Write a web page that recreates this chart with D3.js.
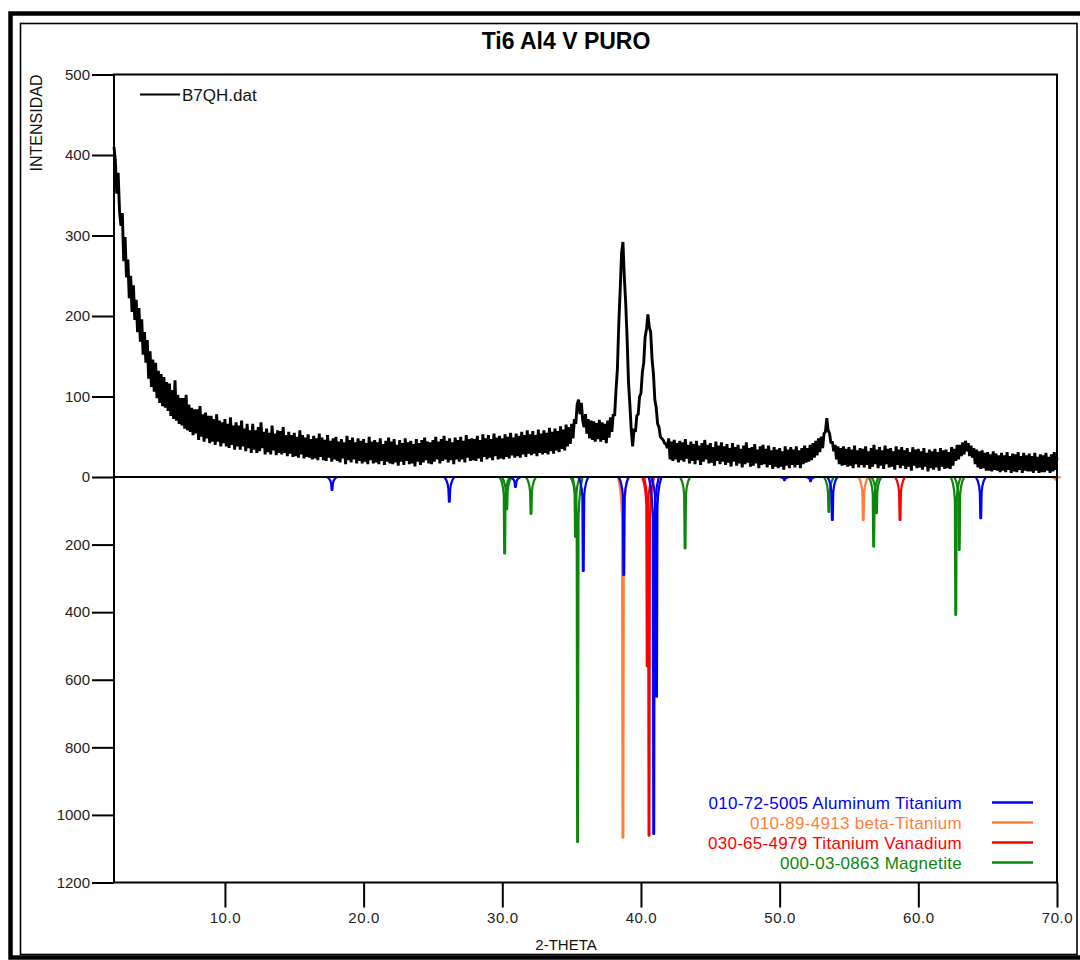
<!DOCTYPE html>
<html>
<head>
<meta charset="utf-8">
<script src="https://cdn.jsdelivr.net/npm/d3@7"></script>
<style>
  body { margin: 0; background: #fff; }
  svg { display: block; font-family: "Liberation Sans", Arial, Helvetica, sans-serif; }
</style>
</head>
<body>
<svg id="chart" width="1080" height="960"></svg>
<script>
// ---- Texts ----
const chartTitle = "Ti6 Al4 V PURO";
const xLabel = "2-THETA";
const yLabel = "INTENSIDAD";
const scanName = "B7QH.dat";

// ---- Measured scan (B7QH.dat): counts every 0.1 deg from 2.0 to 70.0 ----
const scanStart = 2.0;
const scanStep = 0.1;
const counts = [
  410,392,352,378,330,312,328,268,298,248,   // 2
  270,222,250,205,238,195,220,180,210,168,   // 3
  196,152,180,142,170,122,156,112,146,106,   // 4
  142,98,132,92,128,88,124,86,118,82,        // 5
  116,76,108,72,120,70,102,66,98,64,         // 6
  98,60,102,58,90,56,86,52,84,54,            // 7
  84,46,88,50,78,44,80,48,76,42,             // 8
  76,44,72,40,78,44,70,38,68,42,             // 9
  72,38,66,36,74,40,64,34,68,38,             // 10
  64,34,70,38,60,32,66,36,58,30,             // 11
  66,34,58,30,62,32,68,36,56,28,             // 12
  60,31,55,28,64,33,54,27,58,30,             // 13
  57,28,62,30,52,26,56,29,52,25,             // 14
  55,26,50,24,58,28,52,23,49,25,             // 15
  53,24,47,22,51,23,48,21,54,25,             // 16
  49,21,46,20,52,24,45,19,48,22,             // 17
  50,20,44,18,47,23,43,16,51,21,             // 18
  46,18,49,22,43,17,48,20,45,17,             // 19
  47,19,42,16,50,21,44,17,46,18,             // 20
  43,16,48,20,41,15,45,19,49,17,             // 21
  44,16,47,18,40,14,46,19,42,15,             // 22
  48,20,43,16,45,17,41,13,47,19,             // 23
  42,15,46,18,49,21,44,17,43,16,             // 24
  46,19,50,22,44,17,47,20,51,22,             // 25
  45,18,48,21,43,16,49,22,46,19,             // 26
  50,22,45,18,52,24,47,20,48,21,             // 27
  47,20,51,23,46,19,53,25,48,22,             // 28
  52,24,47,21,54,26,49,22,51,23,             // 29
  48,22,53,25,50,23,55,27,49,24,             // 30
  54,26,51,24,56,28,52,25,58,29,             // 31
  53,27,57,29,52,26,59,30,54,28,             // 32
  58,30,55,28,61,32,56,29,60,33,             // 33
  57,31,63,35,59,33,65,38,62,41,             // 34
  66,48,72,66,90,96,78,92,70,62,             // 35
  78,54,72,48,70,46,69,44,67,47,             // 36
  71,44,68,46,66,42,70,49,74,56,             // 37
  78,76,108,134,190,232,278,292,248,216,     // 38
  172,118,90,58,38,60,56,76,78,100,          // 39
  104,130,142,174,184,202,186,180,146,128,   // 40
  96,86,66,62,50,48,46,42,41,36,             // 41
  48,22,44,20,46,22,42,18,45,21,             // 42
  43,19,47,23,40,17,44,20,41,16,             // 43
  45,21,39,15,42,19,46,22,40,17,             // 44
  42,18,37,14,44,20,39,16,43,19,             // 45
  38,15,41,18,36,13,42,19,37,14,             // 46
  40,17,35,12,39,16,43,18,36,13,             // 47
  37,14,41,17,34,11,38,15,40,16,             // 48
  35,12,39,15,33,10,37,13,34,11,             // 49
  36,13,32,9,38,14,34,11,37,15,              // 50
  34,12,38,15,33,11,36,16,39,18,             // 51
  36,19,40,21,42,24,45,27,48,31,             // 52
  50,36,54,56,73,58,54,42,44,32,             // 53
  40,22,38,16,36,14,38,15,35,13,             // 54
  37,14,34,11,39,16,33,12,36,15,             // 55
  35,12,38,15,32,10,36,13,40,16,             // 56
  34,11,37,14,33,10,39,16,35,12,             // 57
  36,13,32,9,38,15,34,11,37,14,              // 58
  33,10,36,13,31,8,37,14,34,11,              // 59
  35,12,32,9,36,13,30,7,34,11,               // 60
  32,9,35,12,31,8,36,13,33,10,               // 61
  34,11,31,10,37,14,35,20,40,22,             // 62
  40,26,43,28,45,32,42,26,39,24,             // 63
  36,16,34,12,32,10,33,11,30,8,              // 64
  31,8,28,7,32,9,29,8,27,6,                  // 65
  30,8,27,6,31,9,26,5,29,7,                  // 66
  28,6,31,9,26,5,30,8,27,7,                  // 67
  29,7,26,5,30,8,25,5,28,6,                  // 68
  27,6,30,8,25,5,28,7,31,9,                  // 69
  24                                         // 70
];

// ---- Reference patterns (2-theta, intensity) ----
const alTiCode = "010-72-5005 Aluminum Titanium";
const alTiPos = [17.72, 26.18, 30.95, 35.84, 38.76, 40.92, 41.12, 50.35, 52.23, 53.80, 64.50];
const alTiInt = [38, 73, 29, 278, 290, 1056, 650, 9, 12, 127, 122];

const betaTiCode = "010-89-4913 beta-Titanium";
const betaTiPos = [38.70, 56.03, 69.90];
const betaTiInt = [1067, 127, 8];

const tiVCode = "030-65-4979 Titanium Vanadium";
const tiVPos = [40.45, 40.58, 58.68];
const tiVInt = [560, 1061, 127];

const magCode = "000-03-0863 Magnetite";
const magPos = [30.17, 30.32, 32.07, 35.28, 35.43, 43.18, 53.55, 56.78, 56.98, 62.70, 62.95];
const magInt = [226, 95, 109, 177, 1080, 211, 103, 206, 107, 408, 216];

// ---- Axis ticks ----
const xTicks = [10, 20, 30, 40, 50, 60, 70];
const upperTicks = [0, 100, 200, 300, 400, 500];
const lowerTicks = [200, 400, 600, 800, 1000, 1200];

// ---- Layout ----
const svg = d3.select("#chart");
const plotLeft = 114, plotRight = 1057, plotTop = 74.5, zeroY = 477, plotBottom = 882.5;

const x = d3.scaleLinear().domain([2, 70]).range([plotLeft, plotRight]);
const yUp = d3.scaleLinear().domain([0, 500]).range([zeroY, plotTop]);
const yDown = d3.scaleLinear().domain([0, 1200]).range([zeroY, plotBottom]);

// Page frame
svg.append("rect").attr("x", 10.5).attr("y", 13.5).attr("width", 1080).attr("height", 944)
  .attr("fill", "none").attr("stroke", "#000").attr("stroke-width", 4.5);
svg.append("rect").attr("x", 20.5).attr("y", 23.5).attr("width", 1056.5).attr("height", 931)
  .attr("fill", "none").attr("stroke", "#000").attr("stroke-width", 1.6);

// Title
svg.append("text").attr("x", 566).attr("y", 49).attr("text-anchor", "middle")
  .attr("font-size", 23).attr("font-weight", "bold").text(chartTitle);

// Axis labels
svg.append("text").attr("x", 566).attr("y", 950).attr("text-anchor", "middle")
  .attr("font-size", 15).attr("fill", "#111").text(xLabel);
svg.append("text").attr("transform", "translate(42,123) rotate(-90)")
  .attr("text-anchor", "middle").attr("font-size", 16).attr("fill", "#111").text(yLabel);

// Axes
function styleAxis(g) {
  g.select(".domain").remove();
  g.selectAll(".tick line").attr("stroke", "#000").attr("stroke-width", 2);
  g.selectAll(".tick text").attr("fill", "#222")
    .attr("font-family", "'Liberation Sans', Arial, sans-serif");
}
svg.append("g").attr("transform", `translate(${plotLeft},0)`)
  .call(d3.axisLeft(yUp).tickValues(upperTicks).tickSize(22).tickPadding(2).tickFormat(d3.format("d")))
  .call(styleAxis).selectAll(".tick text").attr("font-size", 15);
svg.append("g").attr("transform", `translate(${plotLeft},0)`)
  .call(d3.axisLeft(yDown).tickValues(lowerTicks).tickSize(22).tickPadding(2).tickFormat(d3.format("d")))
  .call(styleAxis).selectAll(".tick text").attr("font-size", 15);
svg.append("g").attr("transform", `translate(0,${plotBottom})`)
  .call(d3.axisBottom(x).tickValues(xTicks).tickSize(25).tickPadding(5).tickFormat(d3.format(".1f")))
  .call(styleAxis).selectAll(".tick text").attr("font-size", 15).attr("letter-spacing", 0.6);

// Reference patterns; drawing order puts the aluminum-titanium sticks on top
const alTi = { code: alTiCode, pos: alTiPos, val: alTiInt, color: "#0000ff" };
const betaTi = { code: betaTiCode, pos: betaTiPos, val: betaTiInt, color: "#ff7f3a" };
const tiV = { code: tiVCode, pos: tiVPos, val: tiVInt, color: "#ff0000" };
const mag = { code: magCode, pos: magPos, val: magInt, color: "#0c870c" };
const drawOrder = [mag, betaTi, tiV, alTi];
const legendOrder = [alTi, betaTi, tiV, mag];

// Each stick is a narrow peak outline hanging below the zero line
const stickLine = d3.line().curve(d3.curveLinear);
function stickPath(p, v) {
  const cx = x(p), y0 = yDown(0), yt = yDown(v);
  const h = yt - y0;
  const fd = Math.min(0.5 * h, 12 + 0.08 * h);
  return stickLine([
    [cx - 5, y0], [cx - 3, y0 + 0.25 * fd], [cx - 1.6, y0 + 0.6 * fd], [cx - 0.9, y0 + fd],
    [cx - 0.4, yt], [cx + 0.4, yt],
    [cx + 0.9, y0 + fd], [cx + 1.6, y0 + 0.6 * fd], [cx + 3, y0 + 0.25 * fd], [cx + 5, y0]
  ]);
}
const stickG = svg.append("g");
drawOrder.forEach(ph => {
  stickG.selectAll(null).data(ph.pos.map((p, i) => [p, ph.val[i]])).join("path")
    .attr("d", d => stickPath(d[0], d[1]))
    .attr("fill", "none").attr("stroke", ph.color).attr("stroke-width", 2.2)
    .attr("stroke-linejoin", "round");
});

// Measured scan: a heavy stroke so the dense counting noise reads as a solid band
const scan = counts.map((c, i) => [scanStart + i * scanStep, c]);
svg.append("path").datum(scan)
  .attr("d", d3.line().x(d => x(d[0])).y(d => yUp(d[1])))
  .attr("fill", "none").attr("stroke", "#000").attr("stroke-width", 2.9)
  .attr("stroke-linejoin", "miter").attr("stroke-miterlimit", 2);

// Plot frame and zero line
svg.append("rect").attr("x", plotLeft).attr("y", plotTop)
  .attr("width", plotRight - plotLeft).attr("height", plotBottom - plotTop)
  .attr("fill", "none").attr("stroke", "#000").attr("stroke-width", 2);
svg.append("line").attr("x1", plotLeft).attr("x2", plotRight).attr("y1", zeroY).attr("y2", zeroY)
  .attr("stroke", "#000").attr("stroke-width", 2);

// Scan legend (top left)
svg.append("line").attr("x1", 140).attr("x2", 180).attr("y1", 94.5).attr("y2", 94.5)
  .attr("stroke", "#000").attr("stroke-width", 2.2);
svg.append("text").attr("x", 182).attr("y", 100.5).attr("font-size", 17).attr("fill", "#111").text(scanName);

// Pattern legend (bottom right)
const lg = svg.append("g");
legendOrder.forEach((ph, i) => {
  const yy = 802.5 + i * 20;
  lg.append("text").attr("x", 962).attr("y", yy + 6).attr("text-anchor", "end")
    .attr("font-size", 17).attr("letter-spacing", 0.3).attr("fill", ph.color).text(ph.code);
  lg.append("line").attr("x1", 992).attr("x2", 1033).attr("y1", yy).attr("y2", yy)
    .attr("stroke", ph.color).attr("stroke-width", 2.5);
});
</script>
</body>
</html>
